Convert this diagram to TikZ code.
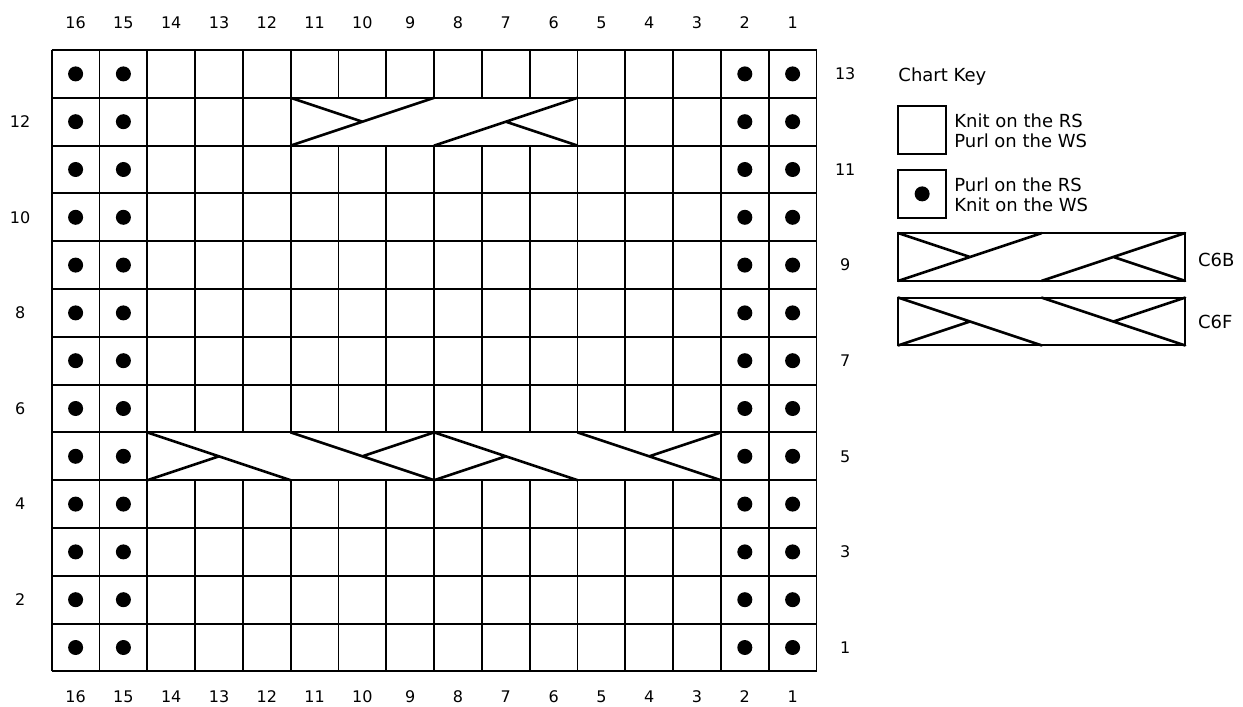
\documentclass[tikz,border=0pt]{standalone}
\usepackage{fontspec}
\setmainfont{DejaVu Sans}
\usepackage{tikz}
\usetikzlibrary{positioning}
\tikzset{
  gridln/.style={line width=1.9pt,black},
  purl/.style={circle,fill=black,inner sep=0pt,minimum size=15pt},
  numlbl/.style={font=\fontsize{16}{18}\selectfont,inner sep=0pt},
  keylbl/.style={font=\fontsize{18}{20}\selectfont,align=left,anchor=west,inner sep=0pt},
  cabbox/.style={fill=white,draw=black,line width=1.9pt},
  cabln/.style={line width=2.6pt,line cap=round},
  % ---- cable crosses, origin at lower left, 6 stitches wide ----
  cbsix/.pic={
    \draw[cabbox] (0,0) rectangle (6,1);
    \draw[cabln] (0,0)--(3,1) (0,1)--(1.5,0.5) (3,0)--(6,1) (4.5,0.5)--(6,0);
  },
  cfsix/.pic={
    \draw[cabbox] (0,0) rectangle (6,1);
    \draw[cabln] (0,1)--(3,0) (0,0)--(1.5,0.5) (3,1)--(6,0) (4.5,0.5)--(6,1);
  },
}
\begin{document}
\begin{tikzpicture}[x=47.8pt,y=47.8pt]
  \useasboundingbox (-1.0816,-0.7385) rectangle (24.922,14.046);
  % chart grid
  \foreach \x in {0,...,16}{\draw[gridln] (\x,0)--(\x,13);}
  \foreach \y in {0,...,13}{\draw[gridln] (0,\y)--(16,\y);}
  \foreach \c in {1,...,16}{
    \node[numlbl] (top\c) at (16.5-\c,13.57) {\c};
    \node[numlbl] (bot\c) at (16.5-\c,-0.53) {\c};
  }
  \foreach \r in {1,3,...,13}{\node[numlbl] (row\r) at (16.6,\r-0.5) {\r};}
  \foreach \r in {2,4,...,12}{\node[numlbl] (row\r) at (-0.66,\r-0.5) {\r};}
  % purl columns
  \foreach \x in {0.5,1.5,14.5,15.5}{
    \foreach \y in {0,...,12}{\node[purl] at (\x,\y+0.5) {};}
  }
  % cables
  \pic at (5,11) {cbsix};
  \pic at (2,4) {cfsix};
  \pic at (8,4) {cfsix};
  % chart key
  \node[keylbl] (keyttl) at (17.71,12.44) {Chart Key};
  \draw[gridln] (17.71,10.83) rectangle (18.71,11.83);
  \node[keylbl] (keyknit) at (18.88,11.31) {Knit on the RS\\Purl on the WS};
  \draw[gridln] (17.71,9.49) rectangle (18.71,10.49);
  \node[purl] (keydot) at (18.21,9.99) {};
  \node[keylbl] (keypurl) at (18.88,9.97) {Purl on the RS\\Knit on the WS};
  \pic at (17.71,8.17) {cbsix};
  \node[keylbl] (keycb) at (23.98,8.61) {C6B};
  \pic at (17.71,6.82) {cfsix};
  \node[keylbl] (keycf) at (23.98,7.31) {C6F};
\end{tikzpicture}
\end{document}
